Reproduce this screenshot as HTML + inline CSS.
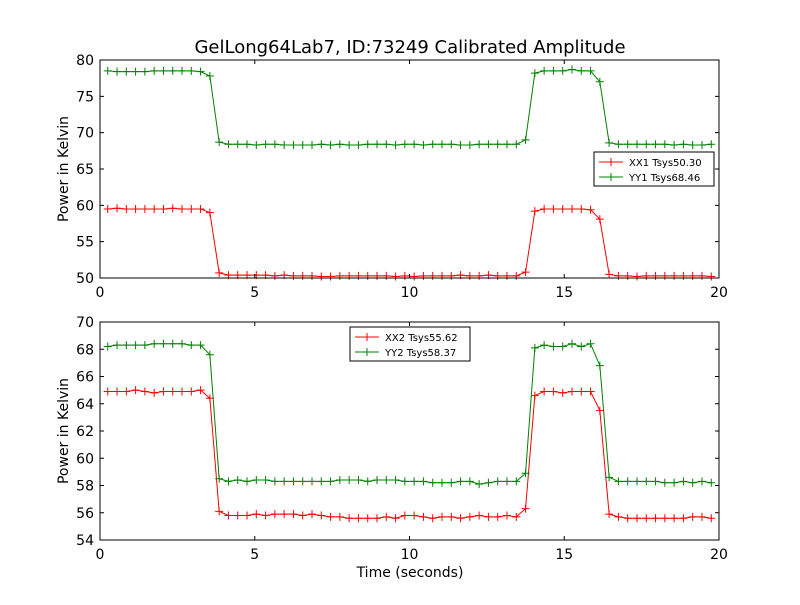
<!DOCTYPE html>
<html><head><meta charset="utf-8"><style>
body{margin:0;background:#fff;}
svg text{font-family:"DejaVu Sans","Liberation Sans",sans-serif;}
</style></head><body>
<svg id="chart" width="800" height="600" xmlns="http://www.w3.org/2000/svg">
<rect x="0" y="0" width="800" height="600" fill="#fff"/>
<text x="410" y="53" font-size="18" text-anchor="middle">GelLong64Lab7, ID:73249 Calibrated Amplitude</text>
<g id="top"></g><g id="bot"></g>
<text x="410" y="577" font-size="14" text-anchor="middle">Time (seconds)</text>
</svg>
<script>
const t0 = 0.25, dt = 0.3;
const xx1 = [59.5,59.6,59.5,59.5,59.5,59.5,59.5,59.6,59.5,59.5,59.5,59.0,
 50.7,50.4,50.4,50.4,50.4,50.4,50.3,50.4,50.3,50.3,50.3,50.2,50.2,50.3,50.3,50.3,50.3,50.3,50.3,50.2,50.3,50.2,50.3,50.3,50.3,50.3,50.4,50.3,50.3,50.4,50.3,50.3,50.3,
 50.8,59.2,59.5,59.5,59.5,59.5,59.5,59.4,58.1,
 50.5,50.3,50.3,50.2,50.3,50.3,50.3,50.3,50.3,50.3,50.3,50.2];
const yy1 = [78.5,78.4,78.4,78.4,78.4,78.5,78.5,78.5,78.5,78.5,78.4,77.8,
 68.7,68.4,68.4,68.4,68.3,68.4,68.4,68.3,68.3,68.3,68.3,68.4,68.3,68.4,68.3,68.3,68.4,68.4,68.4,68.3,68.4,68.4,68.3,68.4,68.4,68.4,68.3,68.3,68.4,68.4,68.4,68.4,68.4,
 69.0,78.2,78.5,78.5,78.5,78.7,78.5,78.5,77.0,
 68.6,68.4,68.4,68.4,68.4,68.4,68.4,68.3,68.4,68.3,68.3,68.4];
const xx2 = [64.9,64.9,64.9,65.0,64.9,64.8,64.9,64.9,64.9,64.9,65.0,64.4,
 56.1,55.8,55.8,55.8,55.9,55.8,55.9,55.9,55.9,55.8,55.9,55.8,55.7,55.7,55.6,55.6,55.6,55.6,55.7,55.6,55.8,55.8,55.7,55.6,55.7,55.7,55.6,55.7,55.8,55.7,55.7,55.8,55.7,
 56.3,64.6,64.9,64.9,64.8,64.9,64.9,64.9,63.5,
 55.9,55.7,55.6,55.6,55.6,55.6,55.6,55.6,55.6,55.7,55.7,55.6];
const yy2 = [68.2,68.3,68.3,68.3,68.3,68.4,68.4,68.4,68.4,68.3,68.3,67.6,
 58.5,58.3,58.4,58.3,58.4,58.4,58.3,58.3,58.3,58.3,58.3,58.3,58.3,58.4,58.4,58.4,58.3,58.4,58.4,58.4,58.3,58.3,58.3,58.2,58.2,58.2,58.3,58.3,58.1,58.2,58.3,58.3,58.3,
 58.9,68.1,68.3,68.2,68.2,68.4,68.2,68.4,66.8,
 58.6,58.3,58.3,58.3,58.3,58.3,58.2,58.2,58.3,58.2,58.3,58.2];
const xTicks = [0,5,10,15,20];
const topYTicks = [50,55,60,65,70,75,80];
const botYTicks = [54,56,58,60,62,64,66,68,70];
const NS = "http://www.w3.org/2000/svg";
function mk(parent, tag, attrs){const e=document.createElementNS(NS,tag);for(const k in attrs)e.setAttribute(k,attrs[k]);parent.appendChild(e);return e;}
function panel(gid, top, bottom, ymin, ymax, yTicks, series, legend, prefix){
  const g=document.getElementById(gid);
  const L=100,R=719;
  const sx=v=>L+(v-0)/(20-0)*(R-L);
  const sy=v=>bottom-(v-ymin)/(ymax-ymin)*(bottom-top);
  series.forEach(s=>{
    let d="";
    s.vals.forEach((v,i)=>{d+=(i?"L":"M")+sx(t0+dt*i).toFixed(2)+" "+sy(v).toFixed(2);});
    const p=mk(g,"path",{d:d,fill:"none",stroke:s.color,"stroke-width":1});
    
    
    s.vals.forEach((v,i)=>{
      const x=sx(t0+dt*i),y=sy(v);
      const m=mk(g,"path",{d:`M${x-4} ${y}H${x+4}M${x} ${y-4}V${y+4}`,stroke:s.color,"stroke-width":1});
      
      
    });
  });
  const fr=mk(g,"rect",{x:L,y:top,width:R-L,height:bottom-top,fill:"none",stroke:"#000","stroke-width":1});
  
  
  xTicks.forEach(v=>{
    const x=sx(v);
    const tk=mk(g,"path",{d:`M${x} ${bottom}V${bottom-4}M${x} ${top}V${top+4}`,stroke:"#000"});
    
    
    const t=mk(g,"text",{x:x,y:bottom+19,"font-size":14,"text-anchor":"middle"});t.textContent=v;
    
    
  });
  yTicks.forEach(v=>{
    const y=sy(v);
    const tk=mk(g,"path",{d:`M${L} ${y}H${L+4}M${R} ${y}H${R-4}`,stroke:"#000"});
    
    
    const t=mk(g,"text",{x:L-6,y:y+5,"font-size":14,"text-anchor":"end"});t.textContent=v;
    
    
  });
  const yt=mk(g,"text",{x:0,y:0,"font-size":14,"text-anchor":"middle",transform:`translate(68 ${(top+bottom)/2}) rotate(-90)`});
  yt.textContent="Power in Kelvin";
  
  
  const lg=mk(g,"rect",{x:legend.x,y:legend.y,width:120,height:34,fill:"#fff",stroke:"#000","stroke-width":1});
  
  
  series.forEach((s,i)=>{
    const y=legend.y+10+i*15, x=legend.x+5;
    const ln=mk(g,"path",{d:`M${x} ${y}H${x+24}M${x+12} ${y-4}V${y+4}`,stroke:s.color});
    
    
    const t=mk(g,"text",{x:x+30,y:y+4,"font-size":10});t.textContent=s.label;
    
    
  });
}
panel("top",60,278,50,80,topYTicks,[
  {vals:xx1,color:"#ff0000",name:"xx1",label:"XX1 Tsys50.30"},
  {vals:yy1,color:"#008000",name:"yy1",label:"YY1 Tsys68.46"}],{x:594,y:152},"top");
panel("bot",322,540,54,70,botYTicks,[
  {vals:xx2,color:"#ff0000",name:"xx2",label:"XX2 Tsys55.62"},
  {vals:yy2,color:"#008000",name:"yy2",label:"YY2 Tsys58.37"}],{x:350,y:327},"bottom");
</script>
</body></html>
